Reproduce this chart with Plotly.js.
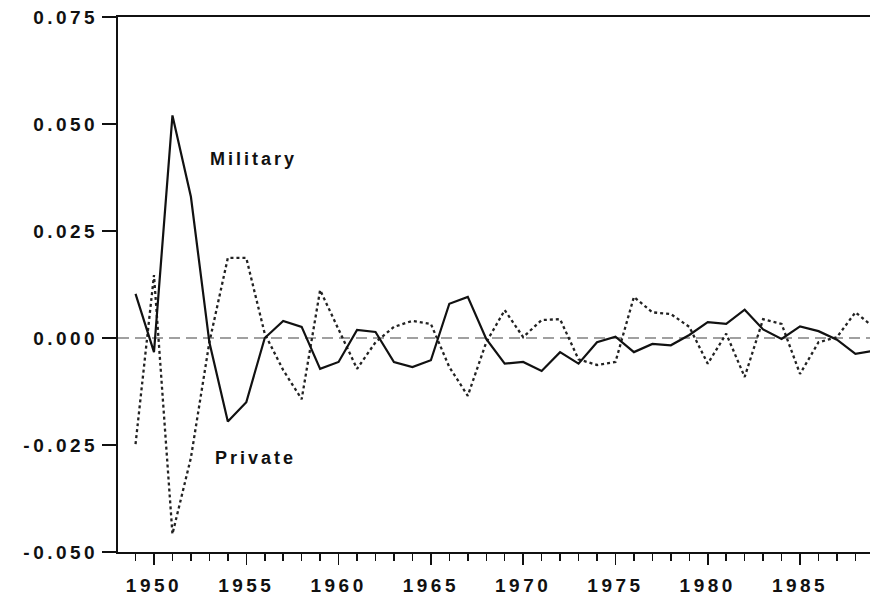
<!DOCTYPE html>
<html>
<head>
<meta charset="utf-8">
<script src="https://cdn.plot.ly/plotly-3.0.1.min.js"></script>
<style>
  html, body { margin: 0; padding: 0; background: #fff; }
  #chart { width: 870px; height: 596px; }
  .xtick text, .ytick text { letter-spacing: 3.5px; }
  .annotation-text { letter-spacing: 3px; }
</style>
</head>
<body>
<div id="chart"></div>
<script>
// Years
var years = [1949, 1950, 1951, 1952, 1953, 1954, 1955, 1956, 1957, 1958,
             1959, 1960, 1961, 1962, 1963, 1964, 1965, 1966, 1967, 1968,
             1969, 1970, 1971, 1972, 1973, 1974, 1975, 1976, 1977, 1978,
             1979, 1980, 1981, 1982, 1983, 1984, 1985, 1986, 1987, 1988, 1989];

// Military (solid line)
var military = [0.0103, -0.0033, 0.0520, 0.033, -0.001, -0.0195, -0.015, 0.000, 0.0040, 0.0026,
                -0.0072, -0.0056, 0.0019, 0.0014, -0.0056, -0.0068, -0.0052, 0.0080, 0.0096, -0.0002,
                -0.0060, -0.0056, -0.0077, -0.0033, -0.0060, -0.0010, 0.0003, -0.0033, -0.0014, -0.0017,
                0.0007, 0.0037, 0.0033, 0.0066, 0.0020, -0.0002, 0.0027, 0.0016, -0.0004, -0.0037, -0.0030];

// Private (dotted line)
var privateInv = [-0.0248, 0.0147, -0.0458, -0.028, -0.001, 0.0187, 0.0187, 0.0010, -0.0075, -0.0143,
                  0.0112, 0.0020, -0.0072, -0.0010, 0.0026, 0.0040, 0.0033, -0.0068, -0.0135, -0.0010,
                  0.0065, 0.0002, 0.0042, 0.0044, -0.0050, -0.0063, -0.0056, 0.0096, 0.0060, 0.0056,
                  0.0026, -0.0060, 0.0010, -0.0091, 0.0044, 0.0033, -0.0084, -0.0010, 0.0002, 0.0060, 0.0025];

// Axis ticks
var yTickVals = [-0.050, -0.025, 0.000, 0.025, 0.050, 0.075];
var yTickText = ["-0.050", "-0.025", "0.000", "0.025", "0.050", "0.075"];

var tickFont = { family: "Liberation Sans, Arial, Helvetica, sans-serif", size: 19, color: "#111", weight: 700 };
var labelFont = { family: "Liberation Sans, Arial, Helvetica, sans-serif", size: 18, color: "#111", weight: 700 };

var traces = [
  {
    x: years, y: privateInv, type: "scatter", mode: "lines", name: "Private",
    line: { color: "#222", width: 2.3, dash: "3px,3px" }, hoverinfo: "skip"
  },
  {
    x: years, y: military, type: "scatter", mode: "lines", name: "Military",
    line: { color: "#111", width: 2.2 }, hoverinfo: "skip"
  }
];

var layout = {
  width: 870, height: 596,
  margin: { l: 118, r: 0, t: 17, b: 44, pad: 0 },
  paper_bgcolor: "#fff", plot_bgcolor: "#fff",
  showlegend: false,
  xaxis: {
    range: [1948.05, 1988.79],
    tick0: 1950, dtick: 5,
    ticks: "outside", ticklen: 11, tickwidth: 1.5, tickcolor: "#111",
    ticklabelstandoff: 4,
    showline: true, linecolor: "#111", linewidth: 2, mirror: true,
    showgrid: false, zeroline: false,
    tickfont: tickFont,
    minor: { dtick: 1, ticks: "outside", ticklen: 7, tickwidth: 1.5, tickcolor: "#111", showgrid: false }
  },
  yaxis: {
    range: [-0.050, 0.075],
    tickvals: yTickVals, ticktext: yTickText,
    ticks: "outside", ticklen: 14, tickwidth: 1.5, tickcolor: "#111",
    ticklabelstandoff: 0,
    showline: true, linecolor: "#111", linewidth: 2,
    showgrid: false, zeroline: false,
    tickfont: tickFont
  },
  shapes: [
    {
      type: "line", xref: "paper", yref: "y", x0: 0, x1: 1, y0: 0, y1: 0,
      line: { color: "#a0a0a0", width: 2, dash: "11px,6px" }, layer: "below"
    }
  ],
  annotations: [
    {
      text: "Military", x: 1952.93, y: 0.0418, xref: "x", yref: "y",
      xanchor: "left", yanchor: "middle", showarrow: false, font: labelFont
    },
    {
      text: "Private", x: 1953.2, y: -0.028, xref: "x", yref: "y",
      xanchor: "left", yanchor: "middle", showarrow: false, font: labelFont
    }
  ]
};

Plotly.newPlot("chart", traces, layout, { staticPlot: true, displayModeBar: false });
</script>
</body>
</html>
